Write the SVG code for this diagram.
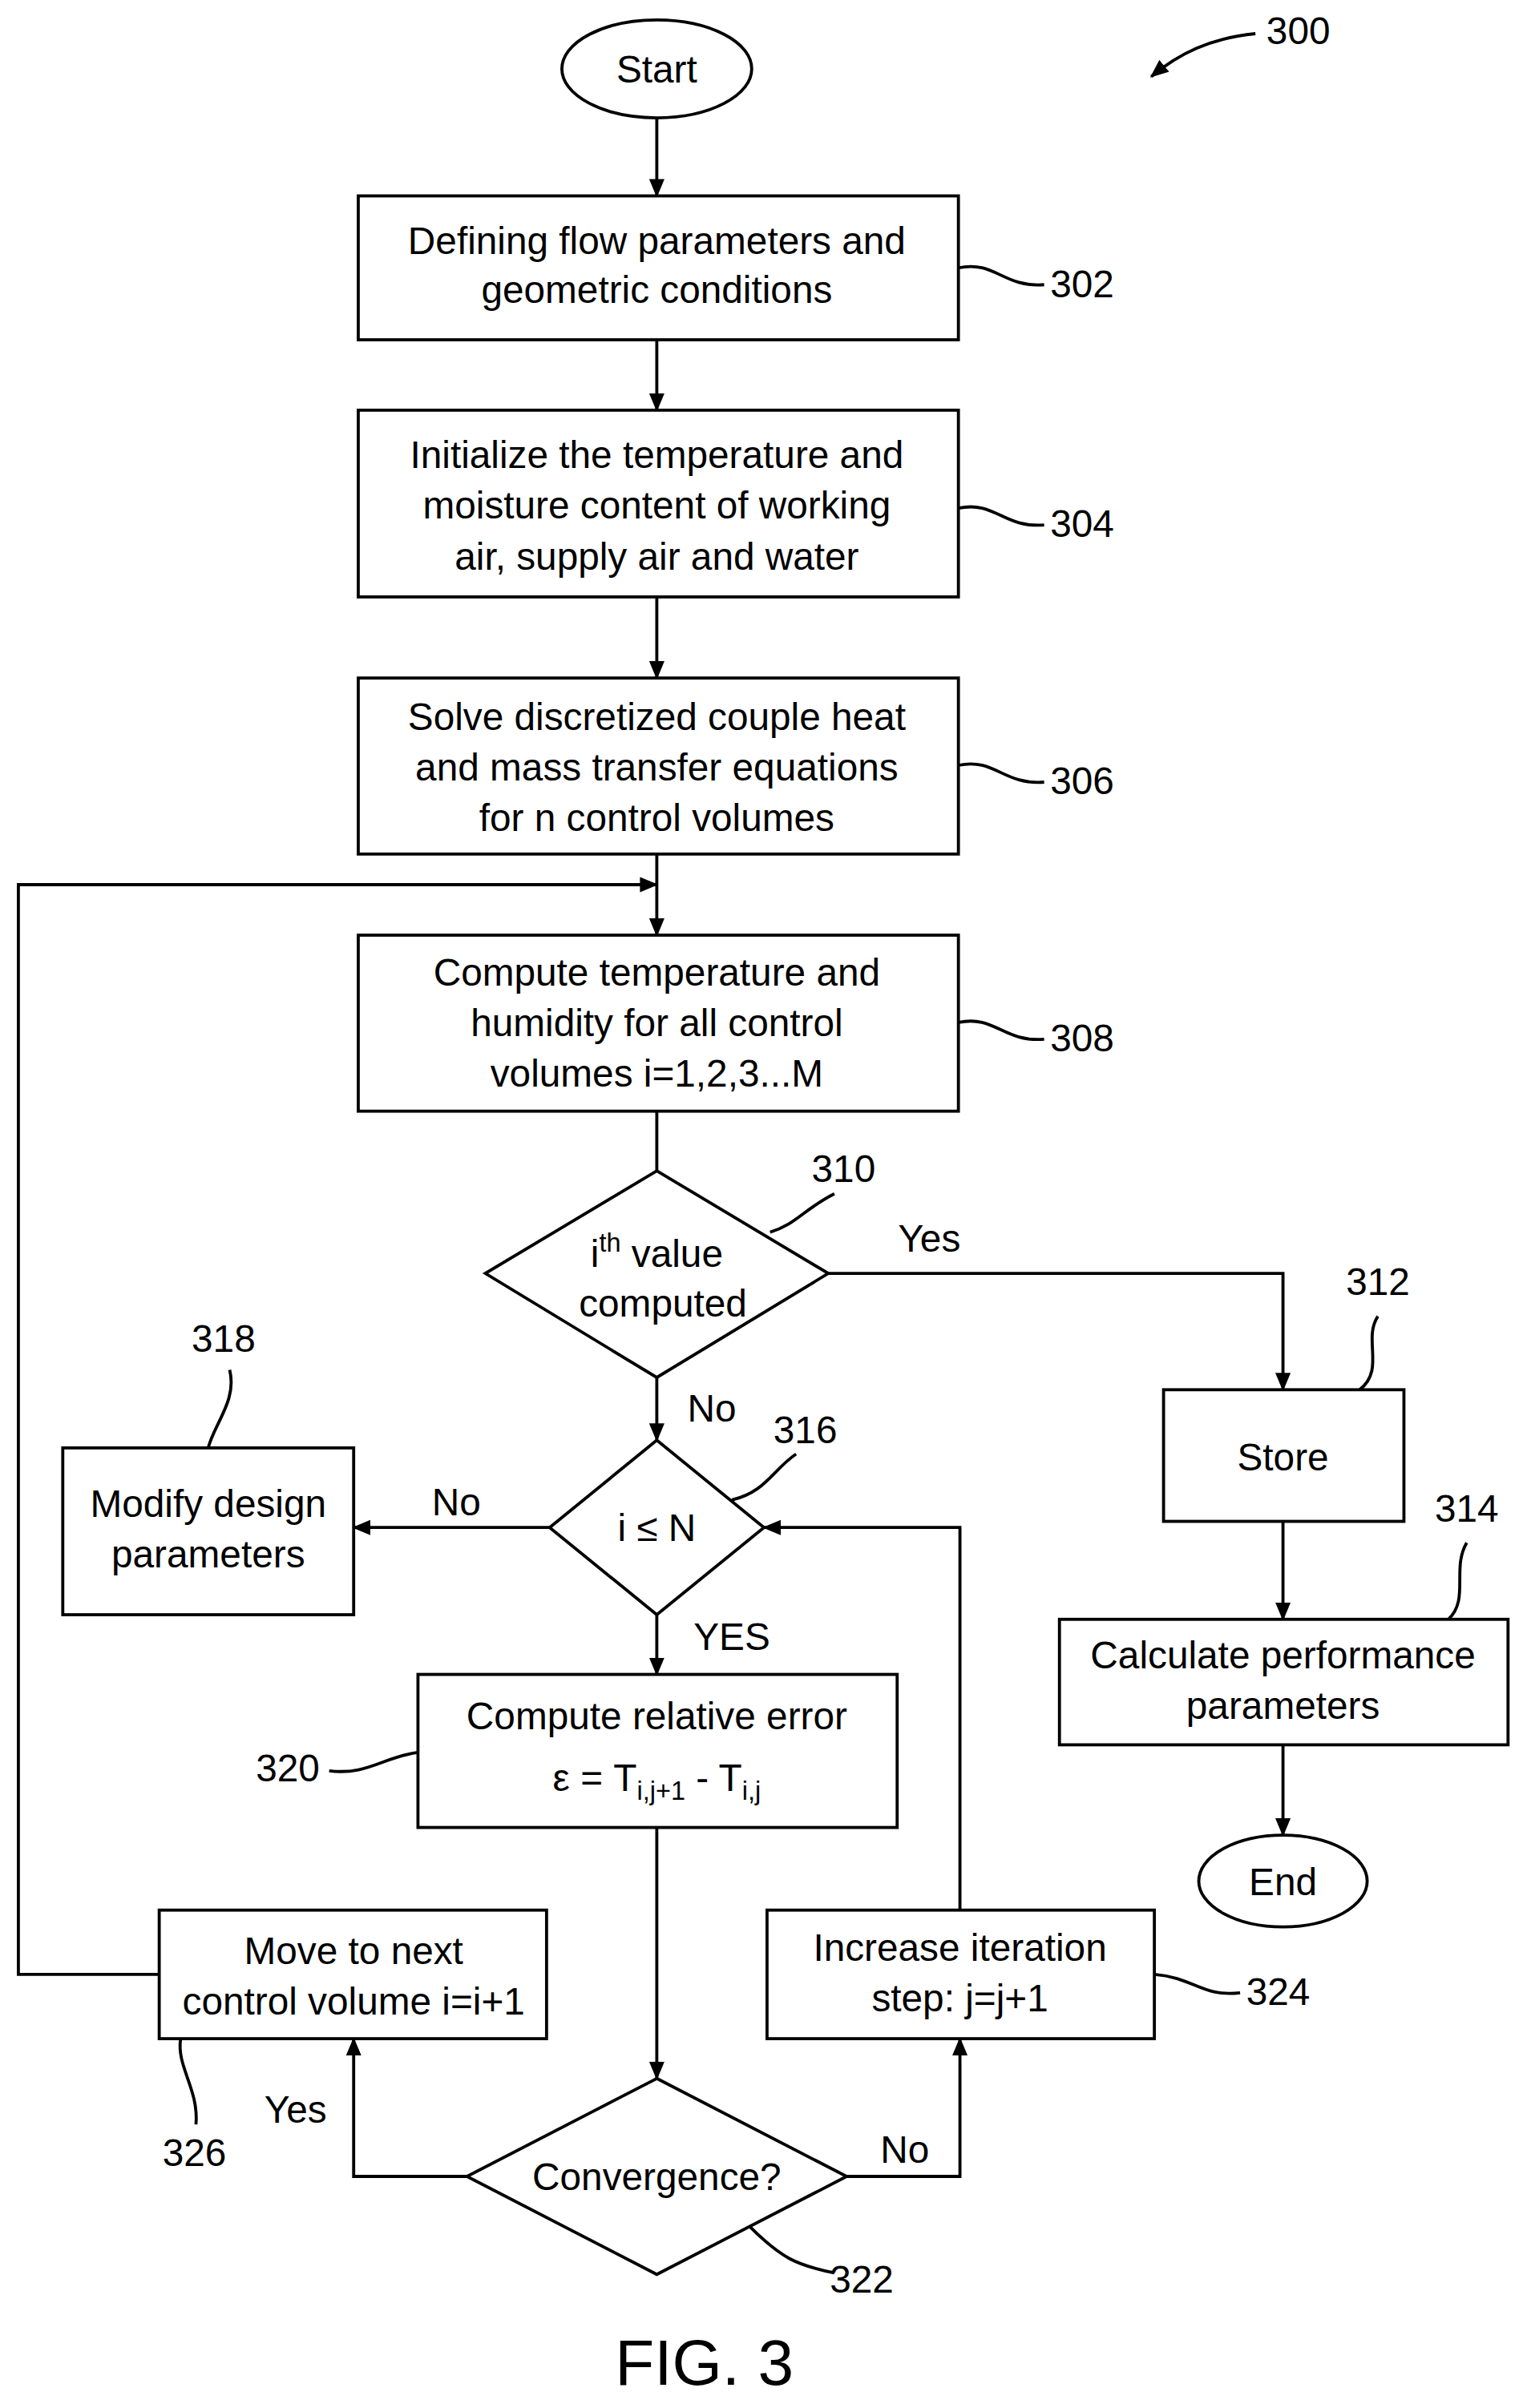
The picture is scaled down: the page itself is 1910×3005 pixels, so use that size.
<svg xmlns="http://www.w3.org/2000/svg" width="1910" height="3005" viewBox="0 0 1910 3005">
<style>
.s{fill:#fff;stroke:#000;stroke-width:2}
.l{fill:none;stroke:#000;stroke-width:2}
text{font-family:"Liberation Sans",Arial,sans-serif;font-size:25px;fill:#000;text-anchor:middle}
.r{text-anchor:start}
.fig{font-size:42px}
</style>
<defs><marker id="a" markerWidth="12" markerHeight="12" refX="11" refY="6" orient="auto" markerUnits="userSpaceOnUse"><path d="M0,1 L12,6 L0,11 Z" fill="#000"/></marker></defs>
<rect width="1910" height="3005" fill="#fff"/>
<g transform="scale(1.91)">
<g id="connectors">
<path class="l" d="M429,77 V128" marker-end="url(#a)"/>
<path class="l" d="M429,222 V268" marker-end="url(#a)"/>
<path class="l" d="M429,390 V443" marker-end="url(#a)"/>
<path class="l" d="M429,558 V611" marker-end="url(#a)"/>
<path class="l" d="M429,726 V765"/>
<path class="l" d="M429,900 V941" marker-end="url(#a)"/>
<path class="l" d="M541,832 H838 V908" marker-end="url(#a)"/>
<path class="l" d="M838,994 V1058" marker-end="url(#a)"/>
<path class="l" d="M838,1140 V1199" marker-end="url(#a)"/>
<path class="l" d="M359,998 H231" marker-end="url(#a)"/>
<path class="l" d="M429,1055 V1094" marker-end="url(#a)"/>
<path class="l" d="M429,1194 V1358" marker-end="url(#a)"/>
<path class="l" d="M305,1422 H231 V1332" marker-end="url(#a)"/>
<path class="l" d="M553,1422 H627 V1332" marker-end="url(#a)"/>
<path class="l" d="M627,1248 V998 H499" marker-end="url(#a)"/>
<path class="l" d="M104,1290 H12 V578 H429" marker-end="url(#a)"/>
<path class="l" d="M820,22 C790,25 770,35 752,50" marker-end="url(#a)"/>
</g>
<g id="start"><ellipse class="s" cx="429" cy="45" rx="62" ry="32"/><text x="429" y="54">Start</text></g>
<g id="n302"><rect class="s" x="234" y="128" width="392" height="94"/><text x="429" y="166">Defining flow parameters and</text><text x="429" y="198">geometric conditions</text>
<path class="l" d="M626,175 C650,170 655,188 682,186"/><text class="r" x="686" y="194">302</text></g>
<g id="n304"><rect class="s" x="234" y="268" width="392" height="122"/><text x="429" y="306">Initialize the temperature and</text><text x="429" y="339">moisture content of working</text><text x="429" y="372">air, supply air and water</text>
<path class="l" d="M626,332 C650,327 655,345 682,343"/><text class="r" x="686" y="351">304</text></g>
<g id="n306"><rect class="s" x="234" y="443" width="392" height="115"/><text x="429" y="477">Solve discretized couple heat</text><text x="429" y="510">and mass transfer equations</text><text x="429" y="543">for n control volumes</text>
<path class="l" d="M626,500 C650,495 655,513 682,511"/><text class="r" x="686" y="519">306</text></g>
<g id="n308"><rect class="s" x="234" y="611" width="392" height="115"/><text x="429" y="644">Compute temperature and</text><text x="429" y="677">humidity for all control</text><text x="429" y="710">volumes i=1,2,3...M</text>
<path class="l" d="M626,668 C650,663 655,681 682,679"/><text class="r" x="686" y="687">308</text></g>
<g id="n310"><path class="s" d="M429,765 L541,832 L429,900 L317,832 Z"/><text x="429" y="828">i<tspan dy="-10" font-size="17">th</tspan><tspan dy="10"> value</tspan></text><text x="433" y="860">computed</text>
<path class="l" d="M503,805 C520,800 525,790 545,780"/><text x="551" y="772">310</text>
<text x="607" y="818">Yes</text><text x="465" y="929">No</text></g>
<g id="n312"><rect class="s" x="760" y="908" width="157" height="86"/><text x="838" y="961">Store</text>
<path class="l" d="M888,908 C905,895 890,875 900,860"/><text x="900" y="846">312</text></g>
<g id="n314"><rect class="s" x="692" y="1058" width="293" height="82"/><text x="838" y="1090">Calculate performance</text><text x="838" y="1123">parameters</text>
<path class="l" d="M946,1058 C960,1045 948,1025 958,1008"/><text x="958" y="994">314</text></g>
<g id="end"><ellipse class="s" cx="838" cy="1229" rx="55" ry="30"/><text x="838" y="1238">End</text></g>
<g id="n316"><path class="s" d="M429,941 L499,998 L429,1055 L359,998 Z"/><text x="429" y="1007">i ≤ N</text>
<path class="l" d="M478,980 C500,975 505,960 520,950"/><text x="526" y="943">316</text>
<text x="298" y="990">No</text><text x="478" y="1078">YES</text></g>
<g id="n318"><rect class="s" x="41" y="946" width="190" height="109"/><text x="136" y="991">Modify design</text><text x="136" y="1024">parameters</text>
<path class="l" d="M136,946 C140,930 155,915 150,895"/><text x="146" y="883">318</text></g>
<g id="n320"><rect class="s" x="273" y="1094" width="313" height="100"/><text x="429" y="1130">Compute relative error</text><text x="429" y="1170">ε = T<tspan dy="6" font-size="17">i,j+1</tspan><tspan dy="-6"> - T</tspan><tspan dy="6" font-size="17">i,j</tspan></text>
<path class="l" d="M273,1145 C250,1148 240,1160 215,1157"/><text x="188" y="1164">320</text></g>
<g id="n326"><rect class="s" x="104" y="1248" width="253" height="84"/><text x="231" y="1283">Move to next</text><text x="231" y="1316">control volume i=i+1</text>
<path class="l" d="M118,1332 C115,1350 130,1365 128,1388"/><text x="127" y="1415">326</text><text x="193" y="1387">Yes</text></g>
<g id="n324"><rect class="s" x="501" y="1248" width="253" height="84"/><text x="627" y="1281">Increase iteration</text><text x="627" y="1314">step: j=j+1</text>
<path class="l" d="M754,1290 C780,1292 785,1305 810,1302"/><text class="r" x="814" y="1310">324</text><text x="591" y="1413">No</text></g>
<g id="n322"><path class="s" d="M429,1358 L553,1422 L429,1486 L305,1422 Z"/><text x="429" y="1431">Convergence?</text>
<path class="l" d="M490,1455 C510,1475 520,1480 545,1485"/><text class="r" x="542" y="1498">322</text></g>
<text x="848" y="29">300</text>
<text class="fig" x="460" y="1558">FIG. 3</text>
</g>
</svg>
